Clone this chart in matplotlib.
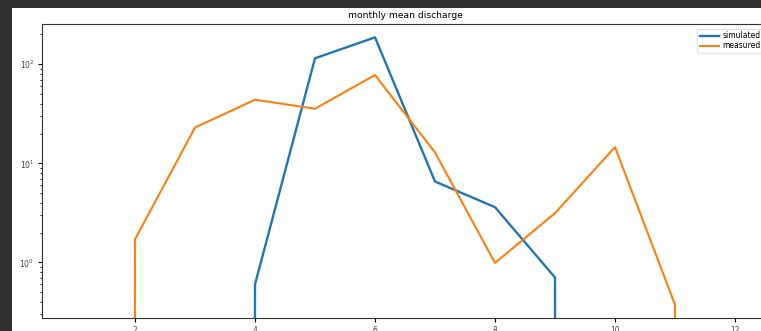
import matplotlib
matplotlib.use("Agg")
import matplotlib.pyplot as plt
from matplotlib.patches import Rectangle

# Monthly mean discharge, months 1..12
months = [1, 2, 3, 4, 5, 6, 7, 8, 9, 10, 11, 12]
simulated = [0, 0, 0, 0.6, 115, 187, 6.56, 3.61, 0.705, 0, 0, 0]
measured = [0, 1.71, 23.0, 43.9, 35.6, 77.9, 12.9, 0.99, 3.14, 14.6, 0.375, 0]

W, H, DPI = 761, 331, 100
plt.rcParams["font.family"] = ["DejaVu Sans"]
plt.rcParams["font.size"] = 5.5

fig = plt.figure(figsize=(W / DPI, H / DPI), dpi=DPI, facecolor="#303030")
# white canvas area inside the dark frame
fig.add_artist(Rectangle((12 / W, 0), 1 - 12 / W, (H - 8) / H,
                         transform=fig.transFigure, facecolor="white",
                         edgecolor="none", zorder=-1))

left, right, top, bottom = 42, 768, 24, 318
ax = fig.add_axes([left / W, (H - bottom) / H, (right - left) / W, (bottom - top) / H])

ax.plot(months, simulated, color="#1f77b4", lw=1.7, label="simulated")
ax.plot(months, measured, color="#ff7f0e", lw=1.5, label="measured")
ax.set_yscale("log")
ax.set_title("monthly mean discharge", fontsize=6.6, pad=4)

ax.tick_params(which="major", length=3, width=0.8, pad=2.5, labelsize=5.5,
               labelcolor="#444444")
ax.tick_params(which="minor", length=1.8, width=0.6)
for s in ax.spines.values():
    s.set_linewidth(0.8)
    s.set_color("#333333")

ax.legend(loc="upper right", fontsize=5.5, handlelength=2.6, handletextpad=0.4,
          borderpad=0.3, labelspacing=0.15, borderaxespad=0.65,
          framealpha=0.8, edgecolor="#dddddd")

fig.savefig("out.png", dpi=DPI, facecolor=fig.get_facecolor())
